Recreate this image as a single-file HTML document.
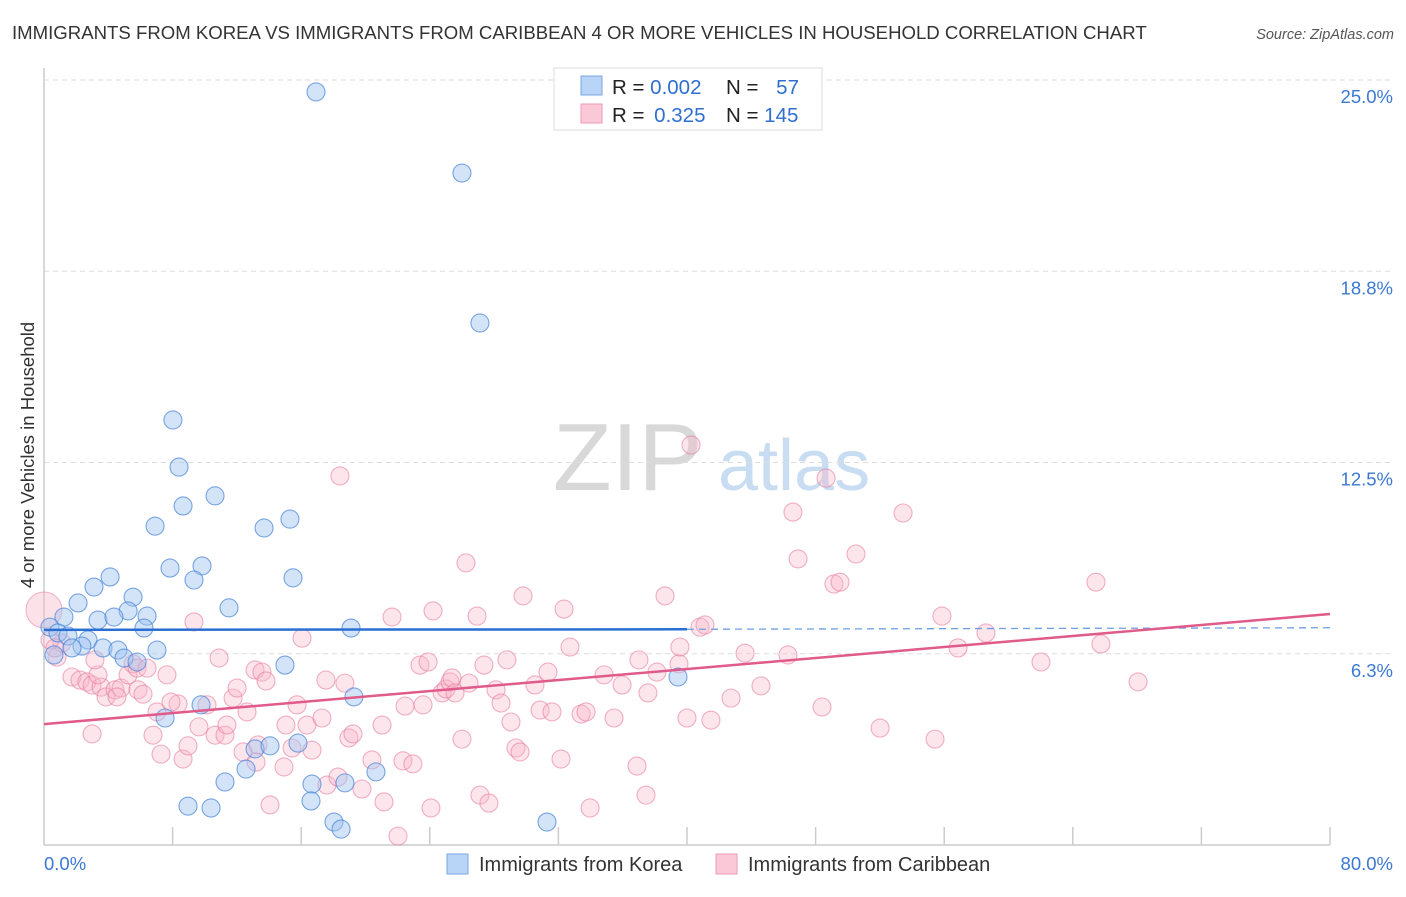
<!DOCTYPE html>
<html><head><meta charset="utf-8">
<style>
body{margin:0;background:#fff;font-family:"Liberation Sans",sans-serif;}
svg text{font-family:"Liberation Sans",sans-serif;}
</style></head>
<body>
<svg id="chart" width="1406" height="892" xmlns="http://www.w3.org/2000/svg">
<text x="12" y="39" font-size="18.6" fill="#333">IMMIGRANTS FROM KOREA VS IMMIGRANTS FROM CARIBBEAN 4 OR MORE VEHICLES IN HOUSEHOLD CORRELATION CHART</text>
<text x="1394" y="39" font-size="14.5" fill="#555" font-style="italic" text-anchor="end">Source: ZipAtlas.com</text>
<g>
<text x="553" y="490" font-size="96" fill="#d8d8d8" font-family="Liberation Serif, serif">ZIP</text>
<text x="718" y="490" font-size="72" fill="#c8dcf2">atlas</text>
</g>
<g id="grid"></g>
<g id="axes"></g>
<g id="pts"></g>
<g id="trend"></g>
<text transform="translate(34,455) rotate(-90)" font-size="18.5" fill="#333" text-anchor="middle">4 or more Vehicles in Household</text>
<g>
<rect x="554" y="68" width="268" height="62" fill="#fff" stroke="#ddd"/>
<rect x="581" y="76" width="21" height="19" fill="#b8d4f6" stroke="#7aa6e0"/>
<rect x="581" y="104" width="21" height="19" fill="#fbc8d8" stroke="#eb9bb5"/>
<text x="612" y="94" font-size="20.5" fill="#222">R = <tspan fill="#2f6fd0">0.002</tspan></text>
<text x="726" y="94" font-size="20.5" fill="#222">N = <tspan fill="#2f6fd0" dx="12">57</tspan></text>
<text x="612" y="122" font-size="20.5" fill="#222">R = <tspan fill="#2f6fd0" dx="4">0.325</tspan></text>
<text x="726" y="122" font-size="20.5" fill="#222">N = <tspan fill="#2f6fd0">145</tspan></text>
</g>
<g>
<rect x="447" y="854" width="21" height="20" fill="#b8d4f6" stroke="#7aa6e0"/>
<text x="479" y="871" font-size="20" fill="#333">Immigrants from Korea</text>
<rect x="716" y="854" width="21" height="20" fill="#fbc8d8" stroke="#eb9bb5"/>
<text x="748" y="871" font-size="20" fill="#333">Immigrants from Caribbean</text>
</g>
</svg>
<script>
const yTicks=[6.25,12.5,18.75,25];
const yTickLabels=["6.3%","12.5%","18.8%","25.0%"];
const xTicks=[8,16,24,32,40,48,56,64,72,80];
const xTickLabels=["0.0%","80.0%"];
const koreaX=[16.92,26.0,27.12,8.02,8.40,8.65,10.64,6.91,13.69,15.30,7.84,9.83,9.33,15.49,4.11,3.11,5.54,2.12,11.51,5.23,6.41,1.24,3.36,4.35,6.22,19.10,0.37,0.87,1.49,2.74,2.36,3.67,4.60,7.03,1.74,0.62,4.98,5.79,14.99,19.28,9.77,39.44,7.53,15.80,13.13,14.06,11.26,12.57,20.65,18.72,16.67,8.96,10.39,16.61,18.04,18.48,31.29];
const koreaY=[24.61,21.96,17.06,13.89,12.35,11.08,11.41,10.42,10.36,10.65,9.05,9.12,8.66,8.73,8.76,8.43,8.10,7.91,7.75,7.65,7.48,7.45,7.35,7.45,7.09,7.09,7.12,6.93,6.83,6.70,6.50,6.44,6.37,6.37,6.44,6.21,6.11,5.98,5.88,4.84,4.58,5.49,4.15,3.33,3.14,3.24,2.06,2.48,2.39,2.03,1.99,1.27,1.21,1.44,0.75,0.52,0.75];
const caribX=[0.81,1.12,1.74,2.24,2.67,2.99,3.55,3.36,3.86,4.42,4.79,4.54,5.23,5.54,5.85,6.16,5.79,6.41,7.65,8.34,7.03,6.78,7.28,8.65,8.96,2.99,9.33,9.64,10.14,10.64,11.26,11.38,10.89,11.76,12.01,12.63,12.38,13.13,13.56,13.81,13.31,13.19,14.06,14.93,15.05,15.43,15.74,16.36,16.67,16.05,17.29,17.60,18.41,17.54,18.72,18.97,19.22,18.29,19.78,21.03,21.15,20.40,21.65,22.02,22.46,22.33,22.95,23.39,23.89,23.58,24.07,24.20,24.76,25.01,25.26,25.38,25.57,26.00,26.25,26.44,26.94,27.12,27.37,27.68,28.12,28.43,28.80,29.05,29.36,29.61,29.80,30.54,30.86,31.35,31.60,32.16,32.35,32.72,33.41,33.72,33.97,34.84,35.46,35.96,36.89,37.01,37.45,37.57,38.13,38.63,39.50,39.56,40.00,40.25,40.81,41.12,41.49,42.74,43.61,44.60,46.28,46.59,46.91,48.40,48.65,49.14,49.52,50.51,52.01,53.44,55.43,55.86,56.86,58.60,62.02,65.44,65.75,68.06,7.90,3.17,0.37,0.68];
const caribY=[6.14,6.60,5.49,5.39,5.33,5.23,5.16,5.56,4.84,5.07,5.13,4.84,5.56,5.92,5.07,4.93,5.78,5.78,5.56,4.61,4.35,3.59,2.97,2.81,3.24,3.63,7.29,3.86,4.58,3.59,3.59,3.92,6.11,4.80,5.13,4.35,3.04,5.72,5.65,5.36,3.27,2.71,1.31,2.55,3.92,3.17,4.58,3.92,3.10,6.76,4.15,1.96,12.06,5.39,5.29,3.50,3.63,2.22,1.83,3.92,1.41,2.78,7.45,0.29,4.54,2.75,2.65,5.88,5.98,4.58,1.21,7.65,4.97,5.10,5.33,5.46,4.97,3.46,9.22,5.29,7.48,1.63,5.88,1.37,5.07,4.64,6.05,4.02,3.17,3.04,8.14,5.23,4.41,5.65,4.35,2.81,7.71,6.47,4.28,4.35,1.21,5.56,4.15,5.23,2.58,6.05,1.63,4.97,5.65,8.14,5.92,6.47,4.15,13.07,7.12,7.19,4.08,4.80,6.27,5.20,6.21,10.88,9.35,4.51,11.99,8.53,8.59,9.51,3.82,10.85,3.46,7.48,6.44,6.93,5.98,8.59,6.57,5.33,4.67,6.05,6.70,6.44];
const bigCaribX=[0];
const bigCaribY=[7.68];
const koreaTrendX=[0,40,80];
const koreaTrendY=[7.03,7.05,7.10];
const caribTrendX=[0,80];
const caribTrendY=[3.95,7.55];

const X0=44,X1=1330,Y0=845,PXY=30.6;
function sx(v){return X0+(v/80)*(X1-X0);}
function sy(v){return Y0-v*PXY;}
const NS="http://www.w3.org/2000/svg";
function mk(tag,attrs,parent){const e=document.createElementNS(NS,tag);for(const k in attrs)e.setAttribute(k,attrs[k]);parent.appendChild(e);return e;}
const grid=document.getElementById('grid'),axes=document.getElementById('axes'),pts=document.getElementById('pts'),trend=document.getElementById('trend');
yTicks.forEach((t,i)=>{
  const l=mk('line',{x1:X0,x2:1394,y1:sy(t),y2:sy(t),stroke:'#ddd','stroke-dasharray':'5,4'},grid);
  
  
  const tx=mk('text',{x:1393,y:sy(t)+23,'font-size':18.5,fill:'#3b78d4','text-anchor':'end'},grid);
  tx.textContent=yTickLabels[i];
  
  
});
const ax=mk('line',{x1:X0,x2:X0,y1:68,y2:Y0,stroke:'#ccc','stroke-width':1.5},axes);


const bx=mk('line',{x1:X0,x2:X1,y1:Y0,y2:Y0,stroke:'#ccc','stroke-width':1.5},axes);


xTicks.forEach(t=>{
  const l=mk('line',{x1:sx(t),x2:sx(t),y1:Y0-18,y2:Y0,stroke:'#ccc','stroke-width':1.5},axes);
  
  
});
const xl0=mk('text',{x:X0,y:870,'font-size':18.5,fill:'#3b78d4'},axes);
xl0.textContent=xTickLabels[0];


const xl1=mk('text',{x:1393,y:870,'font-size':18.5,fill:'#3b78d4','text-anchor':'end'},axes);
xl1.textContent=xTickLabels[1];



bigCaribX.forEach((v,i)=>{
  const c=mk('circle',{cx:sx(v),cy:sy(bigCaribY[i]),r:18,fill:'rgba(248,180,200,0.4)',stroke:'rgba(232,130,165,0.6)','stroke-width':1},pts);
  
  
});
caribX.forEach((v,i)=>{
  const c=mk('circle',{cx:sx(v),cy:sy(caribY[i]),r:9,fill:'rgba(248,180,200,0.35)',stroke:'rgba(230,125,160,0.6)','stroke-width':1.1},pts);
  
  
});
koreaX.forEach((v,i)=>{
  const c=mk('circle',{cx:sx(v),cy:sy(koreaY[i]),r:9,fill:'rgba(160,196,240,0.45)',stroke:'rgba(70,130,215,0.7)','stroke-width':1.1},pts);
  
  
});
const kt1=mk('line',{x1:sx(koreaTrendX[0]),y1:sy(koreaTrendY[0]),x2:sx(koreaTrendX[1]),y2:sy(koreaTrendY[1]),stroke:'#2a6fd1','stroke-width':2.5},trend);


const kt2=mk('line',{x1:sx(koreaTrendX[1]),y1:sy(koreaTrendY[1]),x2:sx(koreaTrendX[2]),y2:sy(koreaTrendY[2]),stroke:'#6d9fe0','stroke-width':1.3,'stroke-dasharray':'7,5'},trend);


const ct=mk('line',{x1:sx(caribTrendX[0]),y1:sy(caribTrendY[0]),x2:sx(caribTrendX[1]),y2:sy(caribTrendY[1]),stroke:'#e05a8a','stroke-width':2.5},trend);


</script>
</body></html>
